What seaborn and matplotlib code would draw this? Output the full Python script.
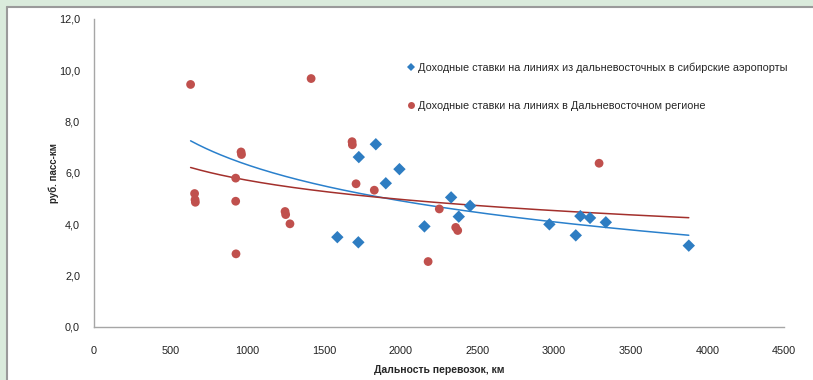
import numpy as np
import pandas as pd
import matplotlib.pyplot as plt
import seaborn as sns
from matplotlib.patches import Rectangle
from matplotlib.lines import Line2D
from matplotlib.ticker import FuncFormatter

sns.set_style('white')
plt.rcParams['font.family'] = ['Liberation Sans', 'DejaVu Sans']

# data
blue_label = 'Доходные ставки на линиях из дальневосточных в сибирские аэропорты'
red_label = 'Доходные ставки на линиях в Дальневосточном регионе'

blue_x = [1587, 1724, 1727, 1838, 1992, 1903, 2155, 2329, 2453, 2379, 2970,
          3172, 3235, 3142, 3338, 3879]
blue_y = [3.50, 3.30, 6.62, 7.12, 6.15, 5.60, 3.92, 5.05, 4.72, 4.30, 4.00,
          4.32, 4.25, 3.57, 4.08, 3.17]

red_x = [630, 1416, 959, 962, 1683, 1685, 1709, 1828, 924, 656,
         659, 661, 924, 1246, 1250, 1278, 926, 2252, 2359, 2372, 2179, 3294]
red_y = [9.45, 9.68, 6.82, 6.72, 7.22, 7.10, 5.58, 5.33, 5.80,
         5.20, 4.96, 4.86, 4.90, 4.50, 4.38, 4.02, 2.85, 4.60, 3.88, 3.76,
         2.55, 6.38]

# logarithmic trend lines (y = a + b*ln x)
blue_trend = (20.30, -2.024)
red_trend = (13.15, -1.076)

df = pd.DataFrame({
    'x': blue_x + red_x,
    'y': blue_y + red_y,
    'series': [blue_label] * len(blue_x) + [red_label] * len(red_x),
})

blue_c = '#2E7DC2'
red_c = '#C0504D'

fig = plt.figure(figsize=(8.13, 3.80), dpi=100)
fig.patch.set_facecolor('white')
ax = fig.add_axes([94 / 813, 53 / 380, 690 / 813, 308 / 380])

# frame around the chart
fig.patches.append(Rectangle((0, 374 / 380), 1, 6 / 380, transform=fig.transFigure,
                             facecolor='#DAEBDC', edgecolor='none', zorder=0))
fig.patches.append(Rectangle((0, 0), 6 / 813, 1, transform=fig.transFigure,
                             facecolor='#DAEBDC', edgecolor='none', zorder=0))
fig.add_artist(Line2D([6.5 / 813, 1], [373.5 / 380, 373.5 / 380], transform=fig.transFigure,
                      color='#9A9A9A', lw=1.5))
fig.add_artist(Line2D([6.5 / 813, 6.5 / 813], [0, 373.5 / 380], transform=fig.transFigure,
                      color='#9A9A9A', lw=1.5))

x_all = np.array(blue_x + red_x)
xs = np.linspace(x_all.min(), x_all.max(), 200)
for (a, b), c in [(blue_trend, '#2A80CC'), (red_trend, '#A3302C')]:
    ax.plot(xs, a + b * np.log(xs), color=c, lw=1.1, zorder=2)

sns.scatterplot(data=df, x='x', y='y', hue='series', style='series',
                palette={blue_label: blue_c, red_label: red_c},
                markers={blue_label: 'D', red_label: 'o'},
                s=40, linewidth=0, ax=ax, zorder=3)

ax.set_xlim(0, 4500)
ax.set_ylim(0, 12)
ax.set_xticks(range(0, 4501, 500))
ax.set_yticks(np.arange(0, 12.1, 2))
ax.yaxis.set_major_formatter(FuncFormatter(lambda v, p: f'{v:.1f}'.replace('.', ',')))
for s in ['top', 'right']:
    ax.spines[s].set_visible(False)
for s in ['left', 'bottom']:
    ax.spines[s].set_color('#A6A6A6')
    ax.spines[s].set_linewidth(1)
ax.tick_params(axis='both', direction='out', length=4, width=0.8, color='#A6A6A6',
               labelsize=7.8, labelcolor='#222222', pad=6)
ax.tick_params(axis='x', pad=10)

ax.set_xlabel('Дальность перевозок, км', fontsize=7.5, fontweight='bold', labelpad=6)
ax.set_ylabel('руб. пасс-км', fontsize=7, fontweight='bold', labelpad=0)

leg = ax.legend(loc='upper left', bbox_to_anchor=(401 / 813, 322 / 380),
                bbox_transform=fig.transFigure, frameon=False, fontsize=7.8,
                labelspacing=2.6, handletextpad=0.2, handlelength=1.0,
                borderaxespad=0)
for h, ms in zip(leg.legend_handles, [4.5, 5]):
    if hasattr(h, 'set_markersize'):
        h.set_markersize(ms)
    elif hasattr(h, 'set_sizes'):
        h.set_sizes([ms ** 2])

fig.savefig('out.png', dpi=100, facecolor=fig.get_facecolor())
